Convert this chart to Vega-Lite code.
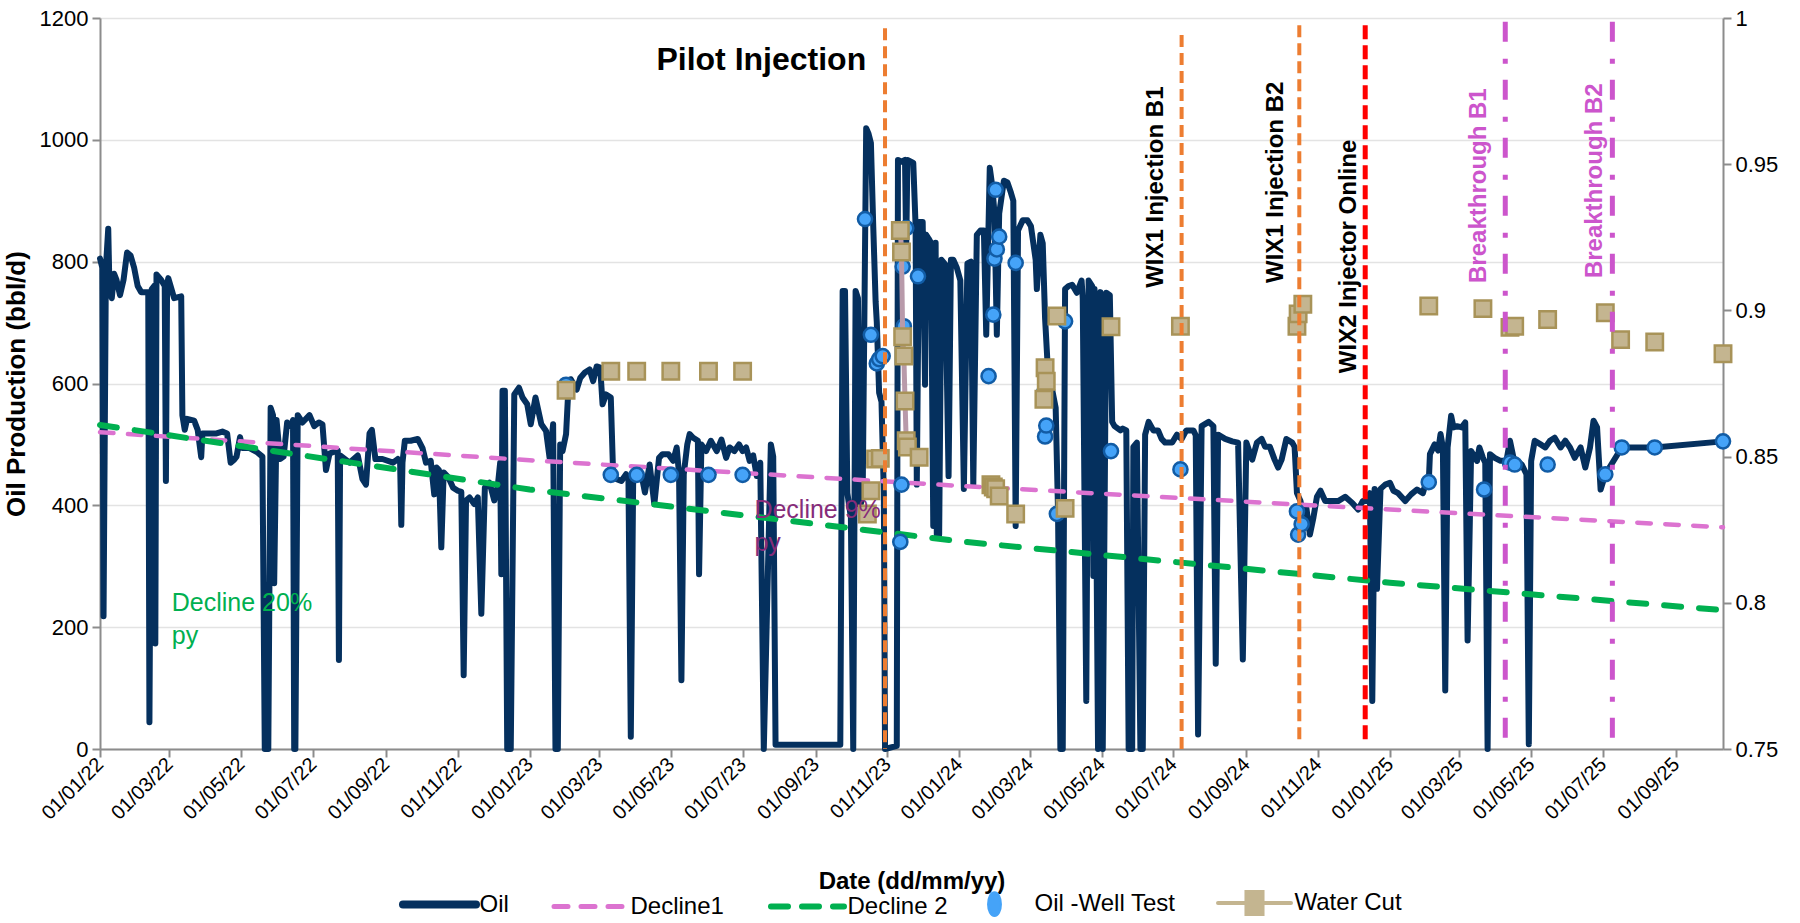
{
 "$schema": "https://vega.github.io/schema/vega-lite/v6.json",
 "width": 1623, "height": 731,
 "autosize": {"type": "none"},
 "padding": {"left": 100, "top": 18, "right": 77, "bottom": 174},
 "background": "white",
 "config": {
  "font": "Liberation Sans",
  "view": {"stroke": null},
  "axis": {"labelColor": "#000", "titleColor": "#000", "domainColor": "#8C8C8C", "tickColor": "#8C8C8C", "domainWidth": 2, "tickWidth": 2, "tickSize": 8, "labelFontSize": 22, "labelFont": "Liberation Sans", "titleFont": "Liberation Sans", "titleFontWeight": "bold", "titleFontSize": 24, "grid": false},
  "legend": {"labelFont": "Liberation Sans", "labelFontSize": 24, "labelColor": "#000"}
 },
 "datasets": {
  "oil": [
   {"d":"2022-01-01","v":805},{"d":"2022-01-03","v":790},{"d":"2022-01-04","v":218},{"d":"2022-01-06","v":790},{"d":"2022-01-08","v":854},{"d":"2022-01-09","v":760},{"d":"2022-01-11","v":740},{"d":"2022-01-13","v":780},{"d":"2022-01-15","v":770},{"d":"2022-01-18","v":745},{"d":"2022-01-21","v":770},{"d":"2022-01-24","v":815},{"d":"2022-01-27","v":810},{"d":"2022-01-30","v":790},{"d":"2022-02-02","v":760},{"d":"2022-02-05","v":750},{"d":"2022-02-09","v":750},{"d":"2022-02-11","v":750},{"d":"2022-02-12","v":44},{"d":"2022-02-14","v":755},{"d":"2022-02-16","v":760},{"d":"2022-02-17","v":173},{"d":"2022-02-18","v":779},{"d":"2022-02-22","v":770},{"d":"2022-02-25","v":760},{"d":"2022-02-26","v":440},{"d":"2022-02-27","v":760},{"d":"2022-02-28","v":773},{"d":"2022-03-02","v":760},{"d":"2022-03-05","v":740},{"d":"2022-03-11","v":743},{"d":"2022-03-12","v":548},{"d":"2022-03-14","v":524},{"d":"2022-03-16","v":542},{"d":"2022-03-22","v":539},{"d":"2022-03-25","v":524},{"d":"2022-03-28","v":479},{"d":"2022-03-29","v":518},{"d":"2022-04-04","v":518},{"d":"2022-04-10","v":518},{"d":"2022-04-15","v":521},{"d":"2022-04-19","v":518},{"d":"2022-04-22","v":470},{"d":"2022-04-25","v":475},{"d":"2022-04-27","v":480},{"d":"2022-04-30","v":512},{"d":"2022-05-02","v":494},{"d":"2022-05-08","v":494},{"d":"2022-05-14","v":488},{"d":"2022-05-19","v":480},{"d":"2022-05-21","v":0},{"d":"2022-05-24","v":0},{"d":"2022-05-26","v":560},{"d":"2022-05-28","v":548},{"d":"2022-05-29","v":272},{"d":"2022-05-31","v":540},{"d":"2022-06-03","v":476},{"d":"2022-06-06","v":480},{"d":"2022-06-09","v":536},{"d":"2022-06-12","v":530},{"d":"2022-06-14","v":540},{"d":"2022-06-15","v":0},{"d":"2022-06-16","v":0},{"d":"2022-06-18","v":548},{"d":"2022-06-22","v":536},{"d":"2022-06-28","v":548},{"d":"2022-07-02","v":530},{"d":"2022-07-06","v":536},{"d":"2022-07-09","v":533},{"d":"2022-07-12","v":458},{"d":"2022-07-15","v":485},{"d":"2022-07-19","v":488},{"d":"2022-07-22","v":490},{"d":"2022-07-23","v":146},{"d":"2022-07-24","v":482},{"d":"2022-08-01","v":470},{"d":"2022-08-08","v":482},{"d":"2022-08-12","v":443},{"d":"2022-08-15","v":434},{"d":"2022-08-18","v":518},{"d":"2022-08-20","v":524},{"d":"2022-08-23","v":476},{"d":"2022-08-29","v":476},{"d":"2022-09-07","v":470},{"d":"2022-09-11","v":476},{"d":"2022-09-13","v":470},{"d":"2022-09-14","v":368},{"d":"2022-09-15","v":470},{"d":"2022-09-17","v":506},{"d":"2022-09-22","v":506},{"d":"2022-09-28","v":509},{"d":"2022-10-02","v":494},{"d":"2022-10-05","v":470},
   {"d":"2022-10-09","v":473},{"d":"2022-10-12","v":418},{"d":"2022-10-14","v":462},{"d":"2022-10-16","v":458},{"d":"2022-10-18","v":331},{"d":"2022-10-20","v":454},{"d":"2022-10-24","v":446},{"d":"2022-10-28","v":429},{"d":"2022-11-01","v":424},{"d":"2022-11-04","v":422},{"d":"2022-11-06","v":121},{"d":"2022-11-08","v":408},{"d":"2022-11-11","v":413},{"d":"2022-11-15","v":402},{"d":"2022-11-18","v":413},{"d":"2022-11-21","v":222},{"d":"2022-11-24","v":429},{"d":"2022-11-28","v":437},{"d":"2022-12-02","v":408},{"d":"2022-12-05","v":432},{"d":"2022-12-07","v":470},{"d":"2022-12-08","v":287},{"d":"2022-12-09","v":588},{"d":"2022-12-11","v":588},{"d":"2022-12-13","v":0},{"d":"2022-12-16","v":0},{"d":"2022-12-19","v":582},{"d":"2022-12-23","v":593},{"d":"2022-12-26","v":577},{"d":"2022-12-30","v":566},{"d":"2023-01-02","v":533},{"d":"2023-01-06","v":577},{"d":"2023-01-11","v":533},{"d":"2023-01-15","v":522},{"d":"2023-01-18","v":478},{"d":"2023-01-21","v":533},{"d":"2023-01-23","v":0},{"d":"2023-01-25","v":0},{"d":"2023-01-27","v":500},{"d":"2023-01-29","v":489},{"d":"2023-02-01","v":517},{"d":"2023-02-03","v":593},{"d":"2023-02-05","v":607},{"d":"2023-02-10","v":590},{"d":"2023-02-13","v":609},{"d":"2023-02-17","v":618},{"d":"2023-02-21","v":623},{"d":"2023-02-24","v":604},{"d":"2023-02-27","v":628},{"d":"2023-03-02","v":626},{"d":"2023-03-04","v":566},{"d":"2023-03-07","v":582},{"d":"2023-03-11","v":577},{"d":"2023-03-13","v":451},{"d":"2023-03-16","v":443},{"d":"2023-03-20","v":440},{"d":"2023-03-24","v":451},{"d":"2023-03-26","v":445},{"d":"2023-03-28","v":20},{"d":"2023-03-30","v":440},{"d":"2023-03-31","v":451},{"d":"2023-04-06","v":451},{"d":"2023-04-09","v":421},{"d":"2023-04-13","v":467},{"d":"2023-04-17","v":402},{"d":"2023-04-21","v":478},{"d":"2023-04-24","v":484},{"d":"2023-04-29","v":484},{"d":"2023-05-03","v":473},{"d":"2023-05-06","v":495},{"d":"2023-05-08","v":451},{"d":"2023-05-10","v":113},{"d":"2023-05-12","v":451},{"d":"2023-05-15","v":500},{"d":"2023-05-17","v":517},{"d":"2023-05-20","v":511},{"d":"2023-05-24","v":506},{"d":"2023-05-25","v":287},{"d":"2023-05-27","v":500},{"d":"2023-05-31","v":489},{"d":"2023-06-04","v":506},{"d":"2023-06-09","v":489},{"d":"2023-06-13","v":508},{"d":"2023-06-17","v":478},{"d":"2023-06-20","v":495},{"d":"2023-06-24","v":489},{"d":"2023-06-28","v":500},{"d":"2023-07-01","v":489},{"d":"2023-07-04","v":495},{"d":"2023-07-07","v":473},
   {"d":"2023-07-10","v":482},{"d":"2023-07-13","v":448},{"d":"2023-07-16","v":470},{"d":"2023-07-19","v":0},{"d":"2023-07-22","v":250},{"d":"2023-07-25","v":500},{"d":"2023-07-27","v":480},{"d":"2023-07-29","v":7},{"d":"2023-08-24","v":7},{"d":"2023-09-22","v":7},{"d":"2023-09-24","v":752},{"d":"2023-09-26","v":752},{"d":"2023-09-28","v":420},{"d":"2023-10-01","v":380},{"d":"2023-10-03","v":0},{"d":"2023-10-05","v":752},{"d":"2023-10-07","v":740},{"d":"2023-10-09","v":400},{"d":"2023-10-11","v":414},{"d":"2023-10-14","v":1019},{"d":"2023-10-16","v":1010},{"d":"2023-10-18","v":995},{"d":"2023-10-20","v":858},{"d":"2023-10-22","v":735},{"d":"2023-10-23","v":701},{"d":"2023-10-25","v":585},{"d":"2023-10-27","v":570},{"d":"2023-10-29","v":420},{"d":"2023-10-30","v":0},{"d":"2023-11-09","v":5},{"d":"2023-11-10","v":967},{"d":"2023-11-13","v":964},{"d":"2023-11-16","v":967},{"d":"2023-11-17","v":820},{"d":"2023-11-18","v":967},{"d":"2023-11-21","v":964},{"d":"2023-11-23","v":962},{"d":"2023-11-25","v":858},{"d":"2023-11-26","v":434},{"d":"2023-11-28","v":865},{"d":"2023-12-01","v":865},{"d":"2023-12-03","v":598},{"d":"2023-12-04","v":844},{"d":"2023-12-06","v":838},{"d":"2023-12-08","v":831},{"d":"2023-12-10","v":366},{"d":"2023-12-12","v":831},{"d":"2023-12-13","v":352},{"d":"2023-12-15","v":352},{"d":"2023-12-17","v":803},{"d":"2023-12-20","v":796},{"d":"2023-12-23","v":448},{"d":"2023-12-25","v":803},{"d":"2023-12-27","v":803},{"d":"2023-12-30","v":790},{"d":"2024-01-02","v":769},{"d":"2024-01-05","v":427},{"d":"2024-01-08","v":797},{"d":"2024-01-11","v":800},{"d":"2024-01-13","v":434},{"d":"2024-01-16","v":844},{"d":"2024-01-19","v":851},{"d":"2024-01-22","v":851},{"d":"2024-01-24","v":680},{"d":"2024-01-27","v":954},{"d":"2024-01-29","v":926},{"d":"2024-01-31","v":880},{"d":"2024-02-02","v":680},{"d":"2024-02-04","v":879},{"d":"2024-02-06","v":906},{"d":"2024-02-08","v":933},{"d":"2024-02-11","v":930},{"d":"2024-02-14","v":913},{"d":"2024-02-16","v":900},{"d":"2024-02-18","v":366},{"d":"2024-02-20","v":851},{"d":"2024-02-24","v":868},{"d":"2024-02-28","v":868},{"d":"2024-03-02","v":858},{"d":"2024-03-06","v":803},{"d":"2024-03-07","v":755},{"d":"2024-03-10","v":844},{"d":"2024-03-12","v":830},{"d":"2024-03-14","v":707},{"d":"2024-03-17","v":600},{"d":"2024-03-20","v":590},{"d":"2024-03-23","v":560},{"d":"2024-03-25","v":390},{"d":"2024-03-27","v":0},{"d":"2024-03-29","v":0},{"d":"2024-03-31","v":755},{"d":"2024-04-03","v":760},
   {"d":"2024-04-06","v":762},{"d":"2024-04-10","v":749},{"d":"2024-04-14","v":769},{"d":"2024-04-15","v":740},{"d":"2024-04-18","v":79},{"d":"2024-04-20","v":769},{"d":"2024-04-23","v":760},{"d":"2024-04-24","v":284},{"d":"2024-04-25","v":755},{"d":"2024-04-28","v":0},{"d":"2024-04-30","v":750},{"d":"2024-05-02","v":0},{"d":"2024-05-05","v":749},{"d":"2024-05-08","v":745},{"d":"2024-05-10","v":537},{"d":"2024-05-12","v":530},{"d":"2024-05-17","v":523},{"d":"2024-05-19","v":526},{"d":"2024-05-22","v":523},{"d":"2024-05-24","v":0},{"d":"2024-05-27","v":0},{"d":"2024-05-28","v":496},{"d":"2024-05-31","v":503},{"d":"2024-06-03","v":0},{"d":"2024-06-05","v":0},{"d":"2024-06-07","v":516},{"d":"2024-06-10","v":537},{"d":"2024-06-14","v":523},{"d":"2024-06-18","v":523},{"d":"2024-06-21","v":509},{"d":"2024-06-24","v":503},{"d":"2024-06-30","v":503},{"d":"2024-07-04","v":516},{"d":"2024-07-08","v":509},{"d":"2024-07-12","v":523},{"d":"2024-07-15","v":523},{"d":"2024-07-18","v":523},{"d":"2024-07-20","v":515},{"d":"2024-07-22","v":24},{"d":"2024-07-25","v":530},{"d":"2024-07-31","v":537},{"d":"2024-08-04","v":530},{"d":"2024-08-06","v":140},{"d":"2024-08-08","v":516},{"d":"2024-08-14","v":509},{"d":"2024-08-20","v":505},{"d":"2024-08-25","v":503},{"d":"2024-08-29","v":147},{"d":"2024-09-01","v":503},{"d":"2024-09-06","v":475},{"d":"2024-09-10","v":503},{"d":"2024-09-14","v":509},{"d":"2024-09-17","v":496},{"d":"2024-09-21","v":496},{"d":"2024-09-25","v":475},{"d":"2024-09-28","v":462},{"d":"2024-10-01","v":475},{"d":"2024-10-05","v":509},{"d":"2024-10-10","v":503},{"d":"2024-10-12","v":496},{"d":"2024-10-14","v":420},{"d":"2024-10-17","v":407},{"d":"2024-10-19","v":386},{"d":"2024-10-22","v":396},{"d":"2024-10-25","v":352},{"d":"2024-10-28","v":380},{"d":"2024-10-31","v":414},{"d":"2024-11-03","v":424},{"d":"2024-11-07","v":407},{"d":"2024-11-13","v":407},{"d":"2024-11-18","v":407},{"d":"2024-11-24","v":414},{"d":"2024-11-30","v":404},{"d":"2024-12-05","v":393},{"d":"2024-12-09","v":407},{"d":"2024-12-12","v":407},{"d":"2024-12-15","v":420},{"d":"2024-12-17","v":79},{"d":"2024-12-19","v":427},{"d":"2024-12-21","v":263},{"d":"2024-12-24","v":427},{"d":"2024-12-28","v":434},{"d":"2025-01-01","v":437},
   {"d":"2025-01-04","v":424},{"d":"2025-01-08","v":420},{"d":"2025-01-14","v":407},{"d":"2025-01-19","v":418},{"d":"2025-01-24","v":426},{"d":"2025-01-29","v":420},{"d":"2025-02-01","v":440},{"d":"2025-02-03","v":438},{"d":"2025-02-04","v":484},{"d":"2025-02-08","v":500},{"d":"2025-02-11","v":490},{"d":"2025-02-13","v":517},{"d":"2025-02-15","v":495},{"d":"2025-02-17","v":96},{"d":"2025-02-19","v":495},{"d":"2025-02-22","v":547},{"d":"2025-02-24","v":528},{"d":"2025-02-27","v":530},{"d":"2025-03-03","v":528},{"d":"2025-03-06","v":536},{"d":"2025-03-08","v":178},{"d":"2025-03-11","v":489},{"d":"2025-03-16","v":473},{"d":"2025-03-18","v":495},{"d":"2025-03-21","v":478},{"d":"2025-03-23","v":470},{"d":"2025-03-25","v":0},{"d":"2025-03-27","v":484},{"d":"2025-03-31","v":478},{"d":"2025-04-05","v":473},{"d":"2025-04-10","v":473},{"d":"2025-04-13","v":506},{"d":"2025-04-16","v":478},{"d":"2025-04-19","v":473},{"d":"2025-04-23","v":467},{"d":"2025-04-27","v":451},{"d":"2025-04-29","v":8},{"d":"2025-05-01","v":473},{"d":"2025-05-04","v":506},{"d":"2025-05-09","v":500},{"d":"2025-05-13","v":495},{"d":"2025-05-17","v":506},{"d":"2025-05-21","v":511},{"d":"2025-05-26","v":495},{"d":"2025-05-30","v":506},{"d":"2025-06-03","v":495},{"d":"2025-06-07","v":478},{"d":"2025-06-12","v":495},{"d":"2025-06-16","v":462},{"d":"2025-06-20","v":495},{"d":"2025-06-23","v":539},{"d":"2025-06-26","v":528},{"d":"2025-06-29","v":426},{"d":"2025-07-03","v":451},{"d":"2025-07-17","v":495},{"d":"2025-08-14","v":495},{"d":"2025-10-11","v":505}
  ],
  "welltest": [
   {"d":"2023-02-01","v":598},{"d":"2023-03-11","v":450},{"d":"2023-04-02","v":450},{"d":"2023-05-01","v":450},{"d":"2023-06-02","v":450},{"d":"2023-07-01","v":450},{"d":"2023-10-13","v":870},{"d":"2023-10-18","v":680},{"d":"2023-10-23","v":633},{"d":"2023-10-25","v":640},{"d":"2023-10-28","v":645},{"d":"2023-11-12","v":340},{"d":"2023-11-13","v":434},{"d":"2023-11-14","v":792},{"d":"2023-11-15","v":694},{"d":"2023-11-17","v":855},{"d":"2023-11-27","v":776},{"d":"2024-01-26","v":612},{"d":"2024-01-30","v":713},{"d":"2024-01-31","v":805},{"d":"2024-02-01","v":918},{"d":"2024-02-02","v":820},{"d":"2024-02-04","v":841},{"d":"2024-02-18","v":798},{"d":"2024-03-13","v":585},{"d":"2024-03-14","v":513},{"d":"2024-03-15","v":531},{"d":"2024-03-24","v":386},{"d":"2024-03-31","v":702},{"d":"2024-05-09","v":489},{"d":"2024-07-07","v":459},{"d":"2024-10-14","v":390},{"d":"2024-10-15","v":352},{"d":"2024-10-18","v":369},{"d":"2025-02-03","v":438},{"d":"2025-03-22","v":426},{"d":"2025-04-13","v":470},{"d":"2025-04-17","v":467},{"d":"2025-05-15","v":467},{"d":"2025-07-03","v":451},{"d":"2025-07-17","v":495},{"d":"2025-08-14","v":495},{"d":"2025-10-11","v":505}
  ],
  "wc": [
   {"d":"2023-02-01","w":0.8727,"g":0},{"d":"2023-03-11","w":0.8792,"g":0},{"d":"2023-04-02","w":0.8792,"g":0},{"d":"2023-05-01","w":0.8792,"g":0},{"d":"2023-06-02","w":0.8792,"g":0},{"d":"2023-07-01","w":0.8792,"g":0},{"d":"2023-10-15","w":0.8304,"g":0},{"d":"2023-10-18","w":0.8383,"g":0},{"d":"2023-10-22","w":0.8492,"g":0},{"d":"2023-10-26","w":0.8494,"g":0},{"d":"2023-11-12","w":0.9273,"g":1},{"d":"2023-11-13","w":0.92,"g":1},{"d":"2023-11-14","w":0.891,"g":1},{"d":"2023-11-15","w":0.8844,"g":1},{"d":"2023-11-16","w":0.869,"g":1},{"d":"2023-11-17","w":0.8554,"g":1},{"d":"2023-11-18","w":0.8533,"g":1},{"d":"2023-11-28","w":0.8498,"g":0},{"d":"2024-01-28","w":0.8404,"g":0},{"d":"2024-01-30","w":0.8396,"g":0},{"d":"2024-02-01","w":0.839,"g":0},{"d":"2024-02-04","w":0.8365,"g":0},{"d":"2024-02-18","w":0.8304,"g":0},{"d":"2024-03-13","w":0.8696,"g":0},{"d":"2024-03-14","w":0.8804,"g":0},{"d":"2024-03-15","w":0.8758,"g":0},{"d":"2024-03-24","w":0.8981,"g":0},{"d":"2024-03-31","w":0.8323,"g":0},{"d":"2024-05-09","w":0.8944,"g":0},{"d":"2024-07-07","w":0.8946,"g":0},{"d":"2024-10-14","w":0.8946,"g":0},{"d":"2024-10-15","w":0.8988,"g":0},{"d":"2024-10-19","w":0.9021,"g":0},{"d":"2025-02-03","w":0.9015,"g":0},{"d":"2025-03-21","w":0.9006,"g":0},{"d":"2025-04-13","w":0.8942,"g":0},{"d":"2025-04-17","w":0.8946,"g":0},{"d":"2025-05-15","w":0.8969,"g":0},{"d":"2025-07-03","w":0.8992,"g":0},{"d":"2025-07-16","w":0.89,"g":0},{"d":"2025-08-14","w":0.8892,"g":0},{"d":"2025-10-11","w":0.8852,"g":0}
  ],
  "decl1": [{"d":"2022-01-01","v":520},{"d":"2023-01-01","v":474},{"d":"2024-01-01","v":432},{"d":"2025-01-01","v":393},{"d":"2025-10-11","v":364}],
  "decl2": [{"d":"2022-01-01","v":532},{"d":"2023-01-01","v":426},{"d":"2024-01-01","v":341},{"d":"2025-01-01","v":273},{"d":"2025-10-11","v":228}],
  "r_orange": [{"d":"2023-10-30","top":1183,"bot":0},{"d":"2024-07-08","top":1172,"bot":0},{"d":"2024-10-16","top":1188,"bot":15}],
  "r_red": [{"d":"2024-12-11","top":1188,"bot":15}],
  "r_mag": [{"d":"2025-04-09","top":1194,"bot":6},{"d":"2025-07-09","top":1194,"bot":6}],
  "t_pilot": [{"d":"2023-10-14","v":1131,"t":"Pilot Injection"}],
  "t_black": [{"d":"2024-06-22","v":757,"t":"WIX1 Injection B1"},{"d":"2024-10-02","v":765,"t":"WIX1 Injection B2"},{"d":"2024-12-03","v":617,"t":"WIX2 Injector Online"}],
  "t_mag": [{"d":"2025-03-24","v":765,"t":"Breakthrough B1"},{"d":"2025-06-30","v":773,"t":"Breakthrough B2"}],
  "t_green": [{"d":"2022-03-03","v":226,"t":"Decline 20%\npy"}],
  "t_purple": [{"d":"2023-07-11","v":380,"t":"Decline 9%\npy"}]
 },
 "encoding": {
  "x": {"field": "d", "type": "temporal",
   "scale": {"type": "utc", "domain": [{"year": 2022, "month": 1, "date": 1, "utc": true}, {"year": 2025, "month": 10, "date": 11, "utc": true}]},
   "axis": {"title": "Date (dd/mm/yy)", "labelExpr": "utcFormat(datum.value, '%d/%m/%y')", "tickCount": {"interval": "month", "step": 2}, "labelAngle": -45, "labelFontSize": 20, "labelAlign": "right", "labelBaseline": "middle", "labelPadding": 4, "titlePadding": 46, "labelFlush": false, "labelOverlap": false}
  }
 },
 "layer": [
  {
   "layer": [
    {"data": {"name": "oil"},
     "mark": {"type": "line", "strokeWidth": 6, "strokeJoin": "round", "strokeCap": "round"},
     "encoding": {
      "y": {"field": "v", "type": "quantitative", "scale": {"domain": [0, 1200], "nice": false},
        "axis": {"orient": "left", "title": "Oil Production (bbl/d)", "titleFontSize": 26, "values": [0, 200, 400, 600, 800, 1000, 1200], "format": "d", "grid": true, "gridColor": "#E3E3E3", "gridWidth": 1.5, "labelPadding": 4, "titlePadding": 10}},
      "color": {"datum": "Oil", "type": "nominal",
        "scale": {"domain": ["Oil", "Decline1", "Decline 2", "Oil -Well Test", "Water Cut"], "range": ["#05305E", "#DC73D0", "#00B050", "#45A3F8", "#C4B590"]},
        "legend": {"title": null, "orient": "none", "legendX": 327.5, "legendY": 873, "direction": "horizontal", "symbolSize": 5329, "symbolStrokeWidth": 5, "labelOffset": 28, "columnPadding": 34, "labelFontSize": 24,
          "encode": {"symbols": {"update": {
            "shape": {"signal": "datum.value === 'Oil -Well Test' ? 'M0,-0.32A0.17,0.32 0 1,1 0,0.32A0.17,0.32 0 1,1 0,-0.32Z' : datum.value === 'Water Cut' ? 'M-1,0H-0.22M0.22,0H1M-0.22,-0.3H0.22V0.3H-0.22Z' : 'M-1,0H1'"},
            "stroke": {"signal": "datum.value === 'Oil' ? '#05305E' : datum.value === 'Decline1' ? '#DC73D0' : datum.value === 'Decline 2' ? '#00B050' : datum.value === 'Oil -Well Test' ? '#125CA5' : '#B89AAA'"},
            "fill": {"signal": "datum.value === 'Oil -Well Test' ? '#45A3F8' : datum.value === 'Water Cut' ? '#C4B590' : 'transparent'"},
            "strokeWidth": {"signal": "datum.value === 'Oil' ? 8 : datum.value === 'Decline1' ? 5 : datum.value === 'Decline 2' ? 6 : datum.value === 'Oil -Well Test' ? 2.5 : 4"},
            "strokeDash": {"signal": "datum.value === 'Decline1' ? [14, 13] : datum.value === 'Decline 2' ? [17, 14] : []"},
            "strokeCap": {"value": "round"},
            "opacity": {"value": 1}
          }}}}
      }
     }},
    {"data": {"name": "decl1"},
     "mark": {"type": "line", "color": "#DC73D0", "strokeWidth": 4.5, "strokeDash": [13.5, 14.5], "strokeCap": "round"},
     "encoding": {"y": {"field": "v", "type": "quantitative"}}},
    {"data": {"name": "decl2"},
     "mark": {"type": "line", "color": "#00B050", "strokeWidth": 6, "strokeDash": [17, 18], "strokeCap": "round"},
     "encoding": {"y": {"field": "v", "type": "quantitative"}}},
    {"data": {"name": "welltest"},
     "mark": {"type": "point", "shape": "circle", "filled": true, "fill": "#45A3F8", "stroke": "#125CA5", "strokeWidth": 2.5, "size": 200, "opacity": 1},
     "encoding": {"y": {"field": "v", "type": "quantitative"}}}
   ]
  },
  {
   "layer": [
    {"data": {"name": "wc"},
     "transform": [{"filter": "datum.g == 1"}],
     "mark": {"type": "line", "color": "#B89AAA", "strokeWidth": 5},
     "encoding": {"y": {"field": "w", "type": "quantitative", "scale": {"domain": [0.75, 1], "nice": false, "zero": false},
        "axis": {"orient": "right", "title": null, "values": [0.75, 0.8, 0.85, 0.9, 0.95, 1], "format": ".2~f", "labelPadding": 4}}}},
    {"data": {"name": "wc"},
     "mark": {"type": "point", "shape": "square", "filled": true, "fill": "#C4B590", "stroke": "#A89358", "strokeWidth": 2.5, "size": 270, "opacity": 1},
     "encoding": {"y": {"field": "w", "type": "quantitative"}}}
   ]
  },
  {
   "layer": [
    {"data": {"name": "r_orange"},
     "mark": {"type": "rule", "color": "#ED7D31", "strokeWidth": 4, "strokeDash": [12, 6]},
     "encoding": {"y": {"field": "top", "type": "quantitative", "scale": {"domain": [0, 1200], "nice": false}, "axis": null}, "y2": {"field": "bot"}}},
    {"data": {"name": "r_red"},
     "mark": {"type": "rule", "color": "#FF0000", "strokeWidth": 5, "strokeDash": [14, 6]},
     "encoding": {"y": {"field": "top", "type": "quantitative", "axis": null}, "y2": {"field": "bot"}}},
    {"data": {"name": "r_mag"},
     "mark": {"type": "rule", "color": "#CC55CC", "strokeWidth": 5, "strokeDash": [20, 17, 5, 16]},
     "encoding": {"y": {"field": "top", "type": "quantitative", "axis": null}, "y2": {"field": "bot"}}},
    {"data": {"name": "t_pilot"},
     "mark": {"type": "text", "align": "right", "baseline": "middle", "font": "Liberation Sans", "fontSize": 32, "fontWeight": "bold", "color": "#000"},
     "encoding": {"y": {"field": "v", "type": "quantitative", "axis": null}, "text": {"field": "t"}}},
    {"data": {"name": "t_black"},
     "mark": {"type": "text", "angle": 270, "align": "left", "baseline": "alphabetic", "font": "Liberation Sans", "fontSize": 24, "fontWeight": "bold", "color": "#000"},
     "encoding": {"y": {"field": "v", "type": "quantitative", "axis": null}, "text": {"field": "t"}}},
    {"data": {"name": "t_mag"},
     "mark": {"type": "text", "angle": 270, "align": "left", "baseline": "alphabetic", "font": "Liberation Sans", "fontSize": 24, "fontWeight": "bold", "color": "#CC55CC"},
     "encoding": {"y": {"field": "v", "type": "quantitative", "axis": null}, "text": {"field": "t"}}},
    {"data": {"name": "t_green"},
     "mark": {"type": "text", "align": "left", "baseline": "alphabetic", "font": "Liberation Sans", "fontSize": 25, "lineBreak": "\n", "lineHeight": 33, "color": "#00B050"},
     "encoding": {"y": {"field": "v", "type": "quantitative", "axis": null}, "text": {"field": "t"}}},
    {"data": {"name": "t_purple"},
     "mark": {"type": "text", "align": "left", "baseline": "alphabetic", "font": "Liberation Sans", "fontSize": 25, "lineBreak": "\n", "lineHeight": 33, "color": "#862C7A"},
     "encoding": {"y": {"field": "v", "type": "quantitative", "axis": null}, "text": {"field": "t"}}}
   ]
  }
 ],
 "resolve": {"scale": {"y": "independent"}}
}
